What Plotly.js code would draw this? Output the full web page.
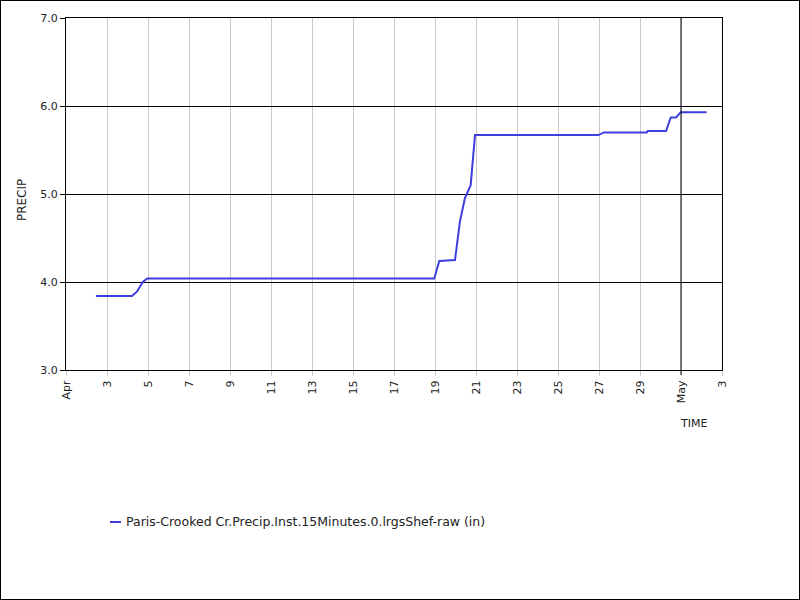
<!DOCTYPE html>
<html>
<head>
<meta charset="utf-8">
<script src="https://cdn.plot.ly/plotly-3.0.1.min.js"></script>
<style>
html,body{margin:0;padding:0;background:#fff;}
#chart{width:800px;height:600px;box-sizing:border-box;border:1px solid #000;}
</style>
</head>
<body>
<div id="chart"></div>
<script>
// Data
const times = [
  "2024-04-02 11:00","2024-04-04 05:15","2024-04-04 11:00","2024-04-04 18:00","2024-04-04 23:00",
  "2024-04-18 23:10","2024-04-19 05:00","2024-04-19 23:25","2024-04-20 05:15","2024-04-20 11:00",
  "2024-04-20 17:45","2024-04-20 22:50","2024-04-26 23:15","2024-04-27 05:50","2024-04-29 08:00",
  "2024-04-29 09:00","2024-04-30 06:30","2024-04-30 12:00","2024-04-30 18:15","2024-04-30 23:40",
  "2024-05-02 06:00"
];
const precip = [
  3.84,3.84,3.89,4.00,4.04,
  4.04,4.24,4.25,4.69,4.95,
  5.10,5.67,5.67,5.70,5.70,
  5.715,5.715,5.87,5.87,5.93,
  5.93
];
const seriesName = "Paris-Crooked Cr.Precip.Inst.15Minutes.0.lrgsShef-raw (in)";
const xTickVals = ["2024-04-01","2024-04-03","2024-04-05","2024-04-07","2024-04-09","2024-04-11","2024-04-13",
  "2024-04-15","2024-04-17","2024-04-19","2024-04-21","2024-04-23","2024-04-25","2024-04-27","2024-04-29",
  "2024-05-01","2024-05-03"];
const xTickText = ["Apr","3","5","7","9","11","13","15","17","19","21","23","25","27","29","May","3"];
const yTickVals = [3,4,5,6,7];
const yTickText = ["3.0","4.0","5.0","6.0","7.0"];
const monthBoundary = "2024-05-01";
const lineColor = "#3f3fe0";

const fam = "DejaVu Sans, Verdana, sans-serif";
const font = {family: fam, size: 11, color: "#222"};

const trace = {
  x: times, y: precip, type: "scatter", mode: "lines", name: seriesName,
  line: {color: lineColor, width: 2}
};

const layout = {
  width: 798, height: 598,
  margin: {l: 65, r: 77, t: 17, b: 229},
  paper_bgcolor: "#fff", plot_bgcolor: "#fff",
  font: font,
  showlegend: false,
  xaxis: {
    type: "date", range: ["2024-04-01","2024-05-03"], automargin: false,
    tickmode: "array", tickvals: xTickVals, ticktext: xTickText, tickangle: -90,
    showgrid: true, gridcolor: "#c8c8c8", gridwidth: 1,
    ticks: "outside", ticklen: 5, tickcolor: "#c8c8c8",
    showline: true, linecolor: "#000", linewidth: 1, mirror: true,
    zeroline: false, tickfont: font
  },
  yaxis: {
    range: [3, 7], automargin: false,
    tickmode: "array", tickvals: yTickVals, ticktext: yTickText,
    showgrid: true, gridcolor: "#000", gridwidth: 1,
    ticks: "outside", ticklen: 5, tickcolor: "#000",
    showline: true, linecolor: "#000", linewidth: 1, mirror: true,
    zeroline: false, tickfont: font
  },
  shapes: [
    {type: "line", xref: "x", yref: "paper", x0: monthBoundary, x1: monthBoundary, y0: -0.014, y1: 1,
     line: {color: "#000", width: 1}},
    // legend sample line
    {type: "line", xref: "paper", yref: "paper", x0: 0.067, x1: 0.0838, y0: -0.4318, y1: -0.4318,
     line: {color: lineColor, width: 2}}
  ],
  annotations: [
    {text: "TIME", xref: "paper", yref: "paper", x: 0.957, y: -0.153, xanchor: "center", yanchor: "middle",
     showarrow: false, font: font},
    {text: "PRECIP", xref: "paper", yref: "paper", x: -0.067, y: 0.483, xanchor: "center", yanchor: "middle",
     textangle: -90, showarrow: false, font: {family: fam, size: 12, color: "#222"}},
    {text: seriesName, xref: "paper", yref: "paper", x: 0.0884, y: -0.4318, xanchor: "left", yanchor: "middle",
     showarrow: false, font: {family: fam, size: 12.5, color: "#222"}}
  ]
};

Plotly.newPlot("chart", [trace], layout, {displayModeBar: false, staticPlot: true});
</script>
</body>
</html>
